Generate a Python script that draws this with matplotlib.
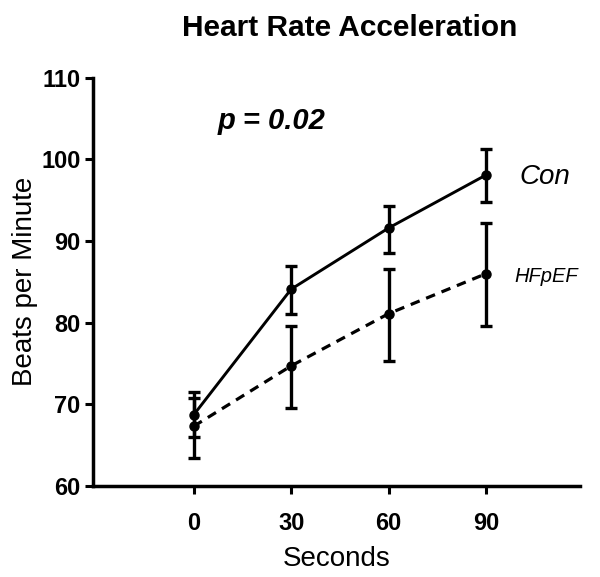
import matplotlib

matplotlib.use("Agg")
import matplotlib.pyplot as plt

plt.rcParams["font.family"] = ["Liberation Sans", "DejaVu Sans"]

seconds = [0, 30, 60, 90]
con_mean = [68.7, 84.1, 91.6, 98.1]
con_lo = [66.0, 81.1, 88.5, 94.8]
con_hi = [71.5, 87.0, 94.3, 101.3]
hf_mean = [67.3, 74.7, 81.1, 86.0]
hf_lo = [63.4, 69.5, 75.3, 79.6]
hf_hi = [70.8, 79.6, 86.6, 92.2]

fig = plt.figure(figsize=(6.0, 5.77), dpi=100)
ax = fig.add_axes([0.155, 0.158, 0.812, 0.707])

con_err = [[m - lo for m, lo in zip(con_mean, con_lo)],
           [hi - m for m, hi in zip(con_mean, con_hi)]]
hf_err = [[m - lo for m, lo in zip(hf_mean, hf_lo)],
          [hi - m for m, hi in zip(hf_mean, hf_hi)]]

ax.errorbar(seconds, hf_mean, yerr=hf_err, color="black", linestyle=(0, (3, 2.2)),
            linewidth=2.3, marker="o", markersize=6.5, capsize=4, capthick=2.4,
            elinewidth=2.4)
ax.errorbar(seconds, con_mean, yerr=con_err, color="black", linestyle="-",
            linewidth=2.1, marker="o", markersize=6.5, capsize=4, capthick=2.4,
            elinewidth=2.4)

ax.text(100.2, 97.9, "Con", fontsize=20, fontstyle="italic", va="center", ha="left")
ax.text(98.7, 85.7, "HFpEF", fontsize=14.5, fontstyle="italic", va="center", ha="left")
ax.text(7.4, 104.7, "p = 0.02", fontsize=21, fontstyle="italic", fontweight="bold",
        va="center", ha="left")

ax.set_xlim(-31, 119)
ax.set_ylim(60, 110)
ax.set_xticks(seconds)
ax.set_yticks([60, 70, 80, 90, 100, 110])
ax.tick_params(axis="both", width=2.2, length=6, direction="out")
ax.tick_params(axis="x", labelsize=17, pad=13)
ax.tick_params(axis="y", labelsize=17, pad=3)
for lab in ax.get_xticklabels() + ax.get_yticklabels():
    lab.set_fontweight("bold")

for side in ["top", "right"]:
    ax.spines[side].set_visible(False)
for side in ["left", "bottom"]:
    ax.spines[side].set_linewidth(2.5)

ax.set_xlabel("Seconds", fontsize=20, labelpad=8)
ax.set_ylabel("Beats per Minute", fontsize=20, labelpad=2)
fig.text(0.582, 0.951, "Heart Rate Acceleration", fontsize=21.5, fontweight="bold",
         ha="center", va="center")

fig.savefig("out.png", dpi=100)
plt.close(fig)
